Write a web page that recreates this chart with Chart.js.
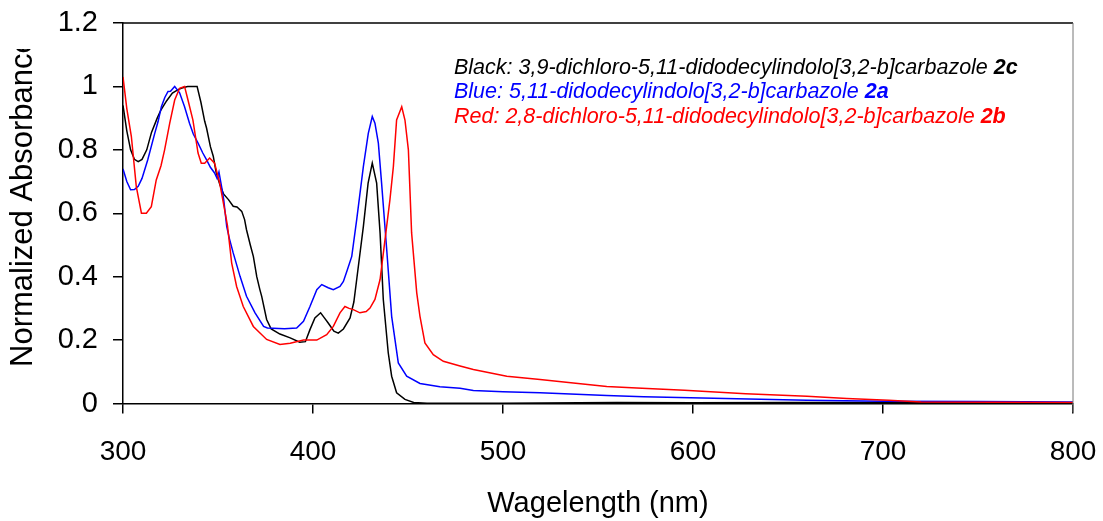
<!DOCTYPE html>
<html lang="es">
<head>
<meta charset="utf-8">
<title>Espectros de absorción normalizados</title>
<script src="https://cdn.jsdelivr.net/npm/chart.js@4.4.1/dist/chart.umd.min.js"></script>
<style>
  html, body { margin: 0; padding: 0; background: #fff; }
  #contenedor { position: relative; width: 1103px; height: 521px; }
</style>
</head>
<body>
<div id="contenedor"><canvas id="graficoEspectros" width="1103" height="521"></canvas></div>
<script>
const fuente = '"Liberation Sans", Arial, Helvetica, sans-serif';

// Negro: 3,9-dicloro (2c)
const longitudNegro = [300, 302, 304, 306, 308, 310, 312.5, 315, 318, 320, 323, 326, 329, 331, 334, 337, 339, 341, 343, 344,
  346, 347.5, 349, 351, 353, 355.5, 358, 360, 362.5, 364, 365, 367, 368.6, 370.4, 372, 373, 375.6, 378, 382.6, 388,
  393, 396, 398.4, 401, 404, 406, 408, 411, 413.3, 416, 419.5, 421.5, 423, 426.5, 429, 431.2, 433.5, 435.3, 437, 439.6,
  441.4, 444, 448.4, 453, 460, 500, 560, 600, 650, 700, 750, 800];
const absNegro = [0.94, 0.86, 0.80, 0.77, 0.763, 0.77, 0.80, 0.855, 0.90, 0.926, 0.955, 0.979, 0.99, 0.995, 1.0, 1.0, 1.0, 0.95, 0.89, 0.868,
  0.81, 0.78, 0.73, 0.69, 0.66, 0.643, 0.622, 0.62, 0.606, 0.58, 0.548, 0.50, 0.464, 0.40, 0.36, 0.338, 0.265, 0.235, 0.219, 0.207,
  0.193, 0.195, 0.233, 0.27, 0.286, 0.27, 0.254, 0.228, 0.222, 0.235, 0.27, 0.32, 0.391, 0.558, 0.695, 0.758, 0.695, 0.538, 0.328, 0.16,
  0.086, 0.034, 0.013, 0.003, 0.001, 0.001, 0.003, 0.002, 0.003, 0.003, 0.002, 0.002];

// Azul: sin cloro (2a)
const longitudAzul = [300, 302, 304, 306, 308, 310, 313, 316.7, 318.5, 320.2, 322, 323.7, 325, 327.2, 328.5, 329.8, 332.4, 335, 337, 339.5,
  342, 344, 346, 348.2, 349.5, 350.5, 352, 353, 354.6, 356, 358, 361.6, 365, 369.5, 374, 376, 385, 391.4, 395, 398.4,
  402, 404.6, 408, 410.7, 414.2, 416, 418, 420.4, 423, 426.5, 429.1, 431.2, 432.6, 434.4, 436.1, 438.8, 441.4, 444.9, 449.3, 456.3,
  466.8, 477.4, 484.4, 500, 519.5, 554.6, 574, 617, 660, 700, 750, 800];
const absAzul = [0.74, 0.70, 0.674, 0.675, 0.685, 0.71, 0.768, 0.852, 0.89, 0.936, 0.965, 0.984, 0.985, 1.0, 0.99, 0.98, 0.936, 0.884, 0.85, 0.821,
  0.79, 0.768, 0.745, 0.727, 0.71, 0.73, 0.68, 0.643, 0.558, 0.52, 0.475, 0.401, 0.338, 0.286, 0.243, 0.238, 0.236, 0.238, 0.259, 0.306,
  0.359, 0.375, 0.365, 0.359, 0.369, 0.385, 0.42, 0.464, 0.58, 0.747, 0.852, 0.905, 0.884, 0.821, 0.695, 0.485, 0.275, 0.128, 0.086, 0.063,
  0.053, 0.048, 0.041, 0.037, 0.034, 0.025, 0.021, 0.016, 0.010, 0.007, 0.006, 0.005];

// Rojo: 2,8-dicloro (2b)
const longitudRojo = [300, 302, 304.4, 307, 309.7, 312.3, 314.9, 317.5, 320, 321.9, 324.6, 327.2, 329.8, 332.4, 334.2, 336.8, 339.5, 341.2, 343, 345.6,
  348.2, 350.9, 353.5, 355, 357.2, 359.8, 363.3, 368.6, 375.6, 382.6, 388, 395, 402, 407.2, 410.7, 414.2, 416.8, 419, 421.2, 424.7,
  428, 430, 432.6, 435.3, 437.9, 440.5, 442.3, 444, 446.7, 448.4, 450.2, 451.9, 454.6, 456.3, 458.9, 463.3, 468.6, 477.4, 484.4, 502,
  519.5, 537, 554.6, 570.4, 595.5, 627.7, 660, 681, 703, 720, 760, 800];
const absRojo = [1.03, 0.93, 0.842, 0.684, 0.60, 0.60, 0.621, 0.705, 0.75, 0.80, 0.884, 0.957, 0.994, 1.0, 0.957, 0.894, 0.79, 0.758, 0.758, 0.774,
  0.758, 0.695, 0.611, 0.56, 0.443, 0.369, 0.306, 0.243, 0.202, 0.186, 0.19, 0.20, 0.20, 0.217, 0.243, 0.286, 0.306, 0.30, 0.296, 0.286,
  0.29, 0.301, 0.328, 0.391, 0.517, 0.643, 0.747, 0.894, 0.936, 0.894, 0.8, 0.538, 0.349, 0.275, 0.191, 0.154, 0.133, 0.118, 0.107, 0.086,
  0.076, 0.065, 0.054, 0.049, 0.042, 0.031, 0.023, 0.016, 0.010, 0.005, 0.004, 0.003];

const ticksX = [300, 400, 500, 600, 700, 800];
const ticksY = [0, 0.2, 0.4, 0.6, 0.8, 1, 1.2];

const textosLeyenda = [
    'Black: 3,9-dichloro-5,11-didodecylindolo[3,2-b]carbazole',
    'Blue: 5,11-didodecylindolo[3,2-b]carbazole',
    'Red: 2,8-dichloro-5,11-didodecylindolo[3,2-b]carbazole'
];
const compuestosLeyenda = ['2c', '2a', '2b'];
const coloresLeyenda = ['#000000', '#0000ff', '#ff0000'];

function armarPuntos(longitudes, valores) {
    return longitudes.map((x, i) => ({ x, y: valores[i] }));
}

// Marco superior/derecho, título del eje Y recortado y leyenda en texto
const pluginDecoracion = {
    id: 'pluginDecoracion',
    afterDraw(chart) {
        const { ctx, chartArea: { left, top, right, bottom } } = chart;
        ctx.save();

        ctx.lineWidth = 1.5;
        ctx.strokeStyle = '#000';
        ctx.beginPath();
        ctx.moveTo(left, top);
        ctx.lineTo(right, top);
        ctx.stroke();

        ctx.lineWidth = 1;
        ctx.strokeStyle = '#777';
        ctx.beginPath();
        ctx.moveTo(right, top);
        ctx.lineTo(right, bottom + 9);
        ctx.stroke();

        // Título Y (cortado arriba como en el original)
        ctx.save();
        ctx.beginPath();
        ctx.rect(0, 49, 60, 420);
        ctx.clip();
        ctx.translate(23, 367);
        ctx.rotate(-Math.PI / 2);
        ctx.font = `31px ${fuente}`;
        ctx.fillStyle = '#000';
        ctx.textAlign = 'left';
        ctx.textBaseline = 'middle';
        ctx.fillText('Normalized Absorbance', 0, 0);
        ctx.restore();

        // Leyenda
        ctx.textAlign = 'left';
        ctx.textBaseline = 'middle';
        textosLeyenda.forEach((texto, i) => {
            const y = 68 + i * 24.5;
            ctx.fillStyle = coloresLeyenda[i];
            ctx.font = `italic 21.5px ${fuente}`;
            ctx.fillText(texto + ' ', 454, y);
            const ancho = ctx.measureText(texto + ' ').width;
            ctx.font = `italic bold 21.5px ${fuente}`;
            ctx.fillText(compuestosLeyenda[i], 454 + ancho, y);
        });

        ctx.restore();
    }
};

const ctx = document.getElementById('graficoEspectros').getContext('2d');
new Chart(ctx, {
    type: 'scatter',
    data: {
        datasets: [
            { data: armarPuntos(longitudRojo, absRojo), borderColor: '#ff0000' },
            { data: armarPuntos(longitudAzul, absAzul), borderColor: '#0000ff' },
            { data: armarPuntos(longitudNegro, absNegro), borderColor: '#000000' }
        ].map(d => Object.assign(d, { showLine: true, pointRadius: 0, borderWidth: 1.5, tension: 0, fill: false }))
    },
    options: {
        responsive: false,
        animation: false,
        devicePixelRatio: 1,
        layout: { padding: { top: 23, right: 30, left: 0, bottom: 0 } },
        plugins: { legend: { display: false }, tooltip: { enabled: false } },
        scales: {
            x: {
                type: 'linear', min: 300, max: 800,
                afterBuildTicks: s => { s.ticks = ticksX.map(v => ({ value: v })); },
                afterFit: s => { s.height = 117.5; s.paddingLeft = 0; s.paddingRight = 0; },
                grid: { drawOnChartArea: false, tickLength: 10, color: '#000', lineWidth: 1.5 },
                border: { color: '#000', width: 1.5 },
                ticks: { color: '#000', font: { family: fuente, size: 28 }, padding: 22, maxRotation: 0, autoSkip: false },
                title: { display: true, text: 'Wagelength (nm)', color: '#000', font: { family: fuente, size: 29 }, padding: { top: 0, bottom: 0 } }
            },
            y: {
                type: 'linear', min: 0, max: 1.2,
                afterBuildTicks: s => { s.ticks = ticksY.map(v => ({ value: v })); },
                afterFit: s => { s.width = 123; s.paddingTop = 0; s.paddingBottom = 0; },
                grid: { drawOnChartArea: false, tickLength: 10, color: '#000', lineWidth: 1.5 },
                border: { color: '#000', width: 1.5 },
                ticks: { color: '#000', font: { family: fuente, size: 29 }, padding: 15, callback: v => String(+v.toFixed(1)) }
            }
        }
    },
    plugins: [pluginDecoracion]
});
</script>
</body>
</html>
